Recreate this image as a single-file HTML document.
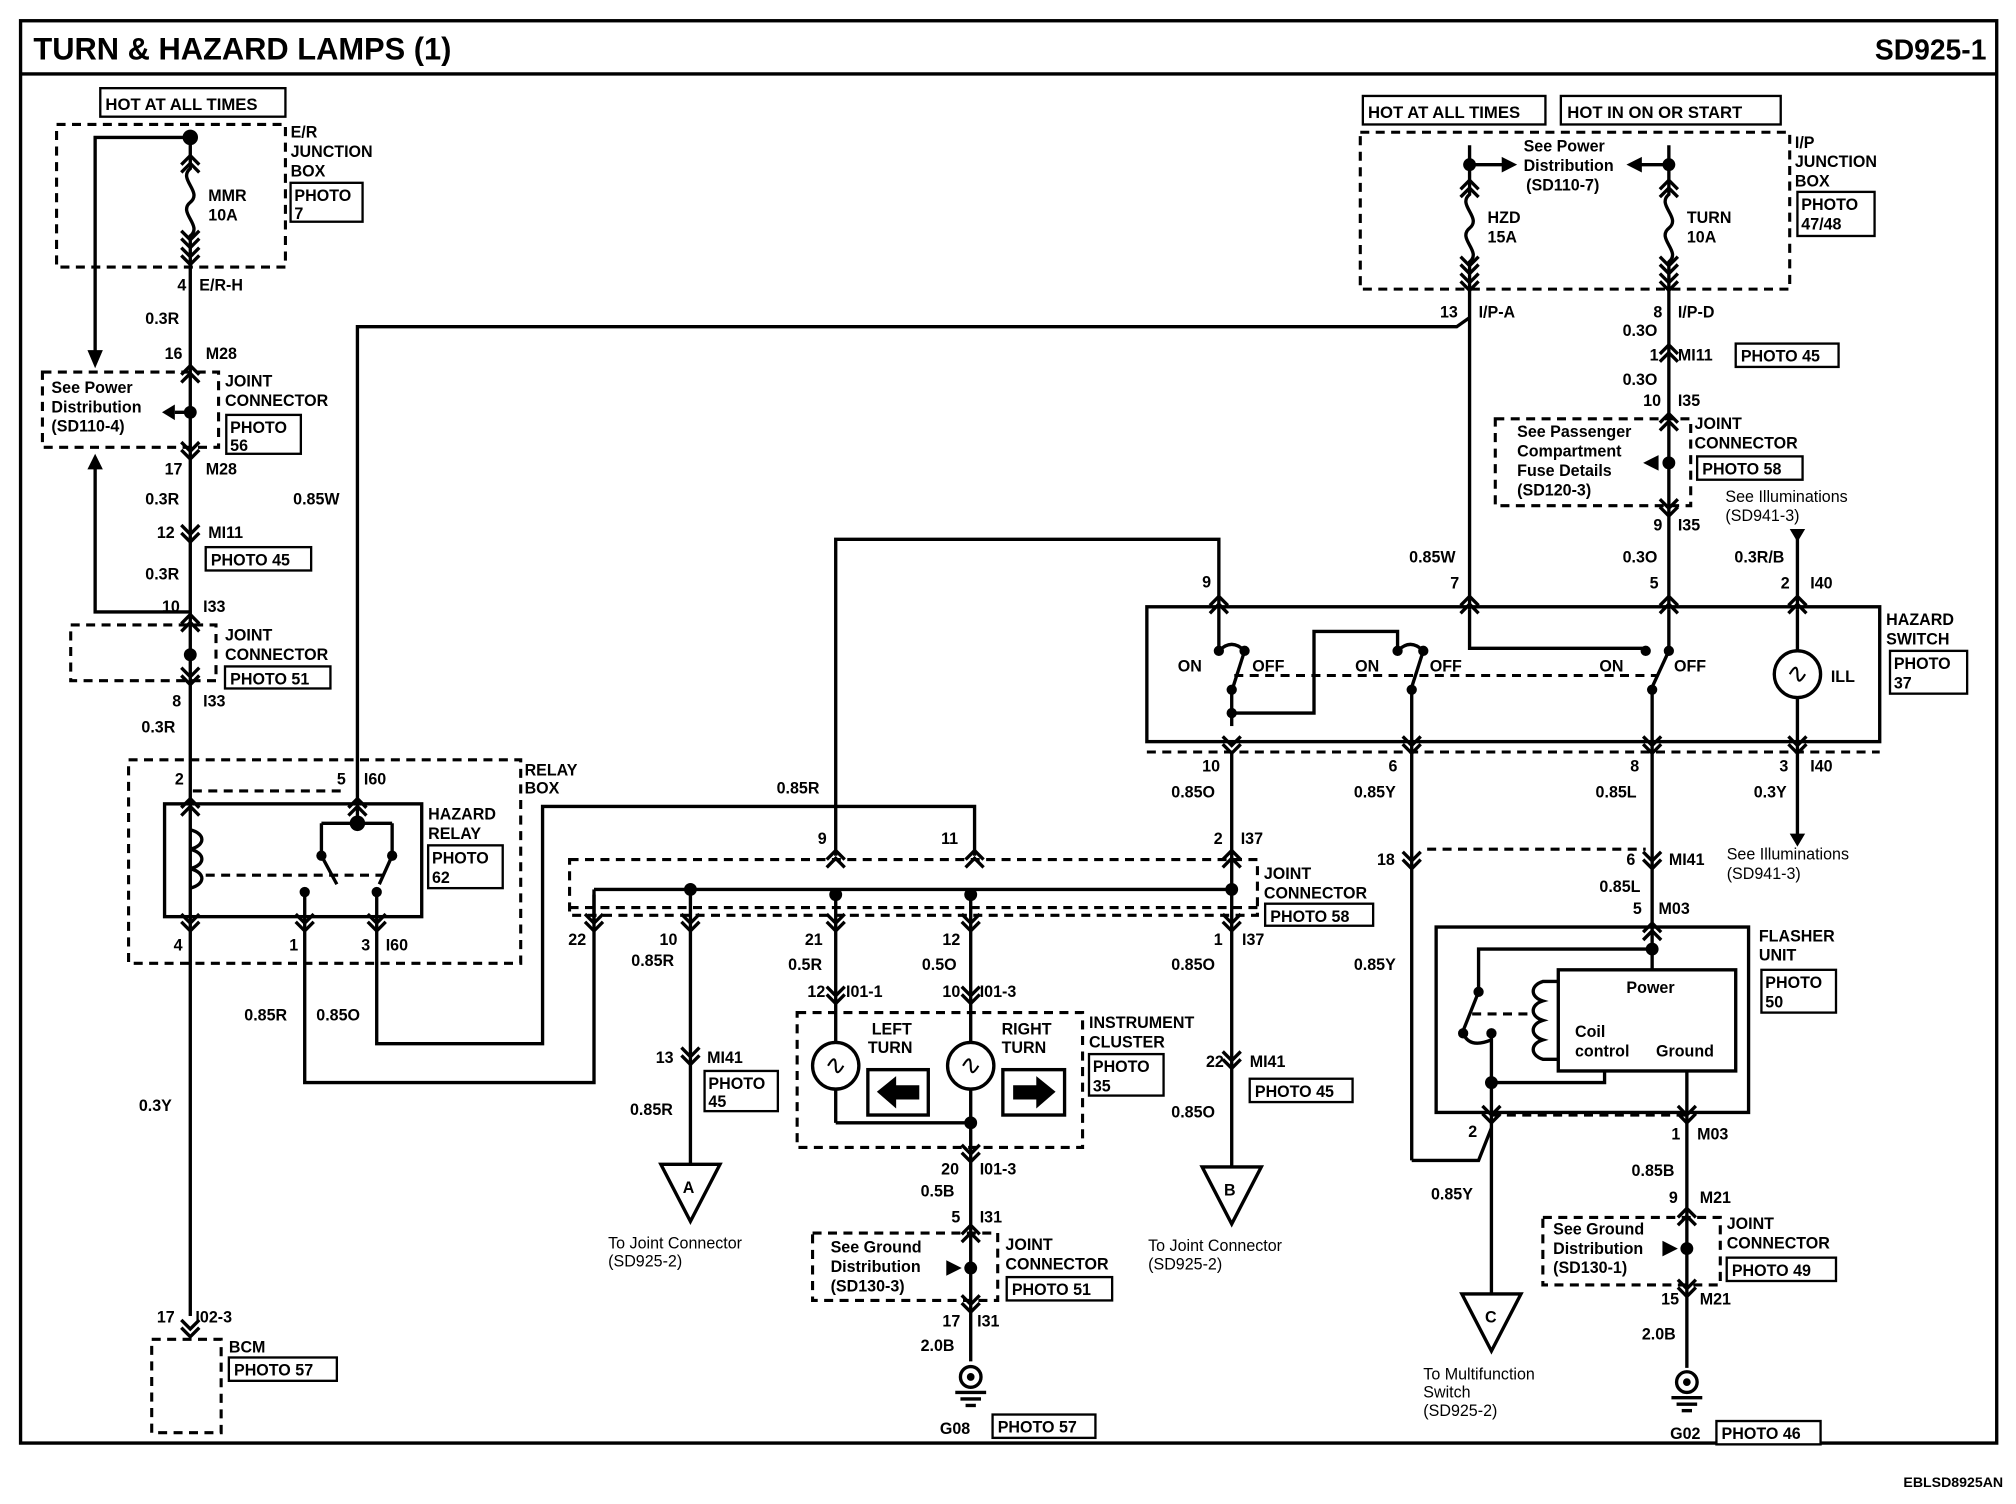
<!DOCTYPE html>
<html><head><meta charset="utf-8"><style>
html,body{margin:0;padding:0;background:#fff}
svg{display:block}
text{font-family:"Liberation Sans",sans-serif;font-weight:bold;font-size:12.5px;fill:#000}
.l{stroke:#000;stroke-width:2.6;fill:none}
.t{stroke:#000;stroke-width:1.6;fill:none}
.d{stroke:#000;stroke-width:2.4;fill:none;stroke-dasharray:7 5}
.b{stroke:#000;stroke-width:1.8;fill:#fff}
.s{font-size:13px}
</style></head><body>
<svg width="2016" height="1504" viewBox="0 0 1568 1160" preserveAspectRatio="none" xmlns="http://www.w3.org/2000/svg">
<defs>
<g id="v"><polyline class="l" points="-7,-7 0,0 7,-7"/><polyline class="l" points="-7,-1 0,6 7,-1"/></g>
<g id="u"><polyline class="l" points="-7,7 0,0 7,7"/><polyline class="l" points="-7,1 0,-6 7,1"/></g>
</defs>
<!-- frame -->
<rect x="16" y="16" width="1537" height="1097" class="l"/>
<line x1="16" y1="57" x2="1553" y2="57" class="l"/>
<text x="26" y="46" style="font-size:24px">TURN &amp; HAZARD LAMPS (1)</text>
<text x="1545" y="46" text-anchor="end" style="font-size:22px">SD925-1</text>
<text x="1558" y="1147" text-anchor="end" style="font-size:11px">EBLSD8925AN</text>

<!-- LEFT COLUMN -->
<rect x="78" y="68" width="144" height="22" class="b"/><text x="82" y="85" class="s">HOT AT ALL TIMES</text>
<rect x="44" y="96" width="178" height="110" class="d"/>
<text x="226" y="106">E/R</text><text x="226" y="121">JUNCTION</text><text x="226" y="136">BOX</text>
<rect x="226" y="141" width="56" height="30" class="b"/><text x="229" y="155">PHOTO</text><text x="229" y="169">7</text>
<circle cx="148" cy="106" r="6"/>
<polyline class="l" points="148,106 74,106 74,275"/><polygon points="68,270 80,270 74,284"/>
<path class="l" d="M148,106 V130 c-10,8 10,18 0,26 c-10,8 10,18 0,26 V285"/>
<use href="#u" x="148" y="126"/><use href="#v" x="148" y="185"/><use href="#v" x="148" y="198"/>
<text x="162" y="155">MMR</text><text x="162" y="170">10A</text>
<text x="138" y="224">4</text><text x="155" y="224">E/R-H</text>
<text x="113" y="250">0.3R</text>
<text x="128" y="277">16</text><text x="160" y="277">M28</text>
<line x1="148" y1="285" x2="148" y2="1015" class="l"/>
<use href="#u" x="148" y="288"/><use href="#v" x="148" y="348"/>
<rect x="33" y="287" width="137" height="58" class="d"/>
<text x="40" y="303">See Power</text><text x="40" y="318">Distribution</text><text x="40" y="333">(SD110-4)</text>
<circle cx="148" cy="318" r="5"/><line x1="148" y1="318" x2="136" y2="318" class="l"/><polygon points="136,312 136,324 126,318"/>
<text x="175" y="298">JOINT</text><text x="175" y="313">CONNECTOR</text>
<rect x="176" y="320" width="58" height="30" class="b"/><text x="179" y="334">PHOTO</text><text x="179" y="348">56</text>
<text x="128" y="366">17</text><text x="160" y="366">M28</text>
<text x="113" y="389">0.3R</text><text x="228" y="389">0.85W</text>
<polygon points="68,362 80,362 74,350"/><polyline class="l" points="74,360 74,472 148,472"/>
<text x="122" y="415">12</text><text x="162" y="415">MI11</text><use href="#v" x="148" y="412"/>
<rect x="160" y="422" width="82" height="18" class="b"/><text x="164" y="436">PHOTO 45</text>
<text x="113" y="447">0.3R</text>
<text x="126" y="472">10</text><text x="158" y="472">I33</text>
<use href="#u" x="148" y="480"/><use href="#v" x="148" y="522"/>
<rect x="55" y="482" width="113" height="43" class="d"/><circle cx="148" cy="505" r="5"/>
<text x="175" y="494">JOINT</text><text x="175" y="509">CONNECTOR</text>
<rect x="175" y="514" width="82" height="17" class="b"/><text x="179" y="528">PHOTO 51</text>
<text x="134" y="545">8</text><text x="158" y="545">I33</text>
<text x="110" y="565">0.3R</text>

<!-- relay -->
<rect x="100" y="586" width="305" height="157" class="d"/>
<text x="408" y="598">RELAY</text><text x="408" y="612">BOX</text>
<rect x="128" y="620" width="200" height="87" class="l"/>
<text x="136" y="605">2</text><text x="262" y="605">5</text><text x="283" y="605">I60</text>
<line x1="150" y1="610" x2="265" y2="610" class="d"/>
<use href="#u" x="148" y="622"/><use href="#u" x="278" y="622"/>
<text x="333" y="632">HAZARD</text><text x="333" y="647">RELAY</text>
<rect x="333" y="652" width="58" height="33" class="b"/><text x="336" y="666">PHOTO</text><text x="336" y="681">62</text>
<path class="l" d="M148,640 c12,3 12,12 0,15 c12,3 12,12 0,15 c12,3 12,12 0,15"/>
<circle cx="278" cy="635" r="6"/>
<polyline class="l" points="278,635 278,622"/>
<polyline class="l" points="250,635 305,635"/>
<polyline class="l" points="250,635 250,660 262,682"/><circle cx="250" cy="660" r="4"/>
<polyline class="l" points="305,635 305,660 295,682"/><circle cx="305" cy="660" r="4"/>
<line x1="160" y1="675" x2="300" y2="675" class="d"/>
<circle cx="237" cy="688" r="4"/><circle cx="293" cy="688" r="4"/>
<line x1="237" y1="688" x2="237" y2="706" class="l"/><line x1="293" y1="688" x2="293" y2="706" class="l"/>
<use href="#v" x="148" y="712"/><use href="#v" x="237" y="712"/><use href="#v" x="293" y="712"/>
<text x="135" y="733">4</text><text x="225" y="733">1</text><text x="281" y="733">3</text><text x="300" y="733">I60</text>
<polyline class="l" points="237,706 237,835 462,835 462,690"/>
<polyline class="l" points="293,706 293,805 422,805 422,622 758,622 758,660"/>
<polyline class="l" points="278,622 278,252 1133,252 1143,245"/>
<text x="190" y="787">0.85R</text><text x="246" y="787">0.85O</text>
<text x="108" y="857">0.3Y</text>
<text x="122" y="1020">17</text><text x="152" y="1020">I02-3</text><use href="#v" x="148" y="1025"/>
<rect x="118" y="1033" width="54" height="72" class="d"/>
<text x="178" y="1043">BCM</text>
<rect x="178" y="1047" width="84" height="18" class="b"/><text x="182" y="1061">PHOTO 57</text>

<!-- MIDDLE -->
<polyline class="l" points="650,660 650,416 948,416 948,468"/>
<text x="604" y="612">0.85R</text>
<rect x="443" y="663" width="535" height="43" class="d"/>
<line x1="443" y1="700" x2="978" y2="700" class="d"/>
<line x1="462" y1="686" x2="958" y2="686" class="l"/>
<line x1="462" y1="686" x2="462" y2="710" class="l"/>
<text x="636" y="651">9</text><text x="732" y="651">11</text><text x="944" y="651">2</text><text x="965" y="651">I37</text>
<use href="#u" x="650" y="662"/><use href="#u" x="758" y="662"/><use href="#u" x="958" y="662"/>
<circle cx="537" cy="686" r="5"/><circle cx="650" cy="690" r="5"/><circle cx="755" cy="690" r="5"/><circle cx="958" cy="686" r="5"/>
<text x="983" y="678">JOINT</text><text x="983" y="693">CONNECTOR</text>
<rect x="984" y="697" width="84" height="17" class="b"/><text x="988" y="711">PHOTO 58</text>
<use href="#v" x="462" y="712"/><use href="#v" x="537" y="712"/><use href="#v" x="650" y="712"/><use href="#v" x="755" y="712"/><use href="#v" x="958" y="712"/>
<text x="442" y="729">22</text><text x="513" y="729">10</text><text x="626" y="729">21</text><text x="733" y="729">12</text><text x="944" y="729">1</text><text x="966" y="729">I37</text>
<text x="491" y="745">0.85R</text><text x="613" y="748">0.5R</text><text x="717" y="748">0.5O</text><text x="911" y="748">0.85O</text>
<line x1="537" y1="686" x2="537" y2="898" class="l"/>
<text x="510" y="820">13</text><text x="550" y="820">MI41</text><use href="#v" x="537" y="815"/>
<rect x="548" y="826" width="57" height="31" class="b"/><text x="551" y="840">PHOTO</text><text x="551" y="854">45</text>
<text x="490" y="860">0.85R</text>
<polygon class="l" points="514,898 560,898 537,942"/><text x="531" y="920">A</text>
<text x="473" y="963" style="font-weight:normal">To Joint Connector</text><text x="473" y="977" style="font-weight:normal">(SD925-2)</text>
<line x1="650" y1="690" x2="650" y2="866" class="l"/><line x1="755" y1="690" x2="755" y2="1050" class="l"/>
<text x="628" y="769">12</text><text x="658" y="769">I01-1</text><text x="733" y="769">10</text><text x="762" y="769">I01-3</text>
<use href="#v" x="650" y="768"/><use href="#v" x="755" y="768"/>
<rect x="620" y="781" width="222" height="104" class="d"/>
<text x="678" y="798">LEFT</text><text x="675" y="812">TURN</text><text x="779" y="798">RIGHT</text><text x="779" y="812">TURN</text>
<circle cx="650" cy="822" r="18" class="b" style="stroke-width:2.6"/><circle cx="755" cy="822" r="18" class="b" style="stroke-width:2.6"/>
<path class="t" d="M644,822 q6,-10 6,0 q0,10 6,0"/><path class="t" d="M749,822 q6,-10 6,0 q0,10 6,0"/>
<rect x="675" y="825" width="47" height="35" class="l"/><polygon points="682,842 697,830 697,837 715,837 715,848 697,848 697,855"/>
<rect x="780" y="825" width="48" height="35" class="l"/><polygon points="821,842 806,830 806,837 788,837 788,848 806,848 806,855"/>
<polyline class="l" points="650,866 755,866"/><circle cx="755" cy="866" r="5"/>
<text x="847" y="793">INSTRUMENT</text><text x="847" y="808">CLUSTER</text>
<rect x="847" y="813" width="58" height="32" class="b"/><text x="850" y="827">PHOTO</text><text x="850" y="842">35</text>
<use href="#v" x="755" y="890"/>
<text x="732" y="906">20</text><text x="762" y="906">I01-3</text><text x="716" y="923">0.5B</text>
<text x="740" y="943">5</text><text x="762" y="943">I31</text><use href="#u" x="755" y="951"/>
<rect x="632" y="951" width="144" height="52" class="d"/>
<text x="646" y="966">See Ground</text><text x="646" y="981">Distribution</text><text x="646" y="996">(SD130-3)</text>
<polygon points="736,972 736,984 748,978"/><circle cx="755" cy="978" r="5"/>
<text x="782" y="964">JOINT</text><text x="782" y="979">CONNECTOR</text>
<rect x="783" y="985" width="82" height="18" class="b"/><text x="787" y="999">PHOTO 51</text>
<use href="#v" x="755" y="1006"/>
<text x="733" y="1023">17</text><text x="760" y="1023">I31</text><text x="716" y="1042">2.0B</text>
<circle cx="755" cy="1062" r="8" class="l"/><circle cx="755" cy="1062" r="3"/>
<line x1="743" y1="1074" x2="767" y2="1074" class="l"/><line x1="747" y1="1079" x2="763" y2="1079" class="l"/><line x1="751" y1="1084" x2="759" y2="1084" class="l"/>
<text x="731" y="1106">G08</text><rect x="772" y="1091" width="80" height="18" class="b"/><text x="776" y="1105">PHOTO 57</text>
<line x1="958" y1="580" x2="958" y2="900" class="l"/>
<text x="938" y="823">22</text><text x="972" y="823">MI41</text><use href="#v" x="958" y="818"/>
<rect x="972" y="832" width="80" height="18" class="b"/><text x="976" y="846">PHOTO 45</text>
<text x="911" y="862">0.85O</text>
<polygon class="l" points="935,900 981,900 958,944"/><text x="952" y="922">B</text>
<text x="893" y="965" style="font-weight:normal">To Joint Connector</text><text x="893" y="979" style="font-weight:normal">(SD925-2)</text>

<!-- RIGHT TOP -->
<rect x="1060" y="74" width="142" height="22" class="b"/><text x="1064" y="91" class="s">HOT AT ALL TIMES</text>
<rect x="1214" y="74" width="171" height="22" class="b"/><text x="1219" y="91" class="s">HOT IN ON OR START</text>
<rect x="1058" y="102" width="334" height="121" class="d"/>
<text x="1396" y="114">I/P</text><text x="1396" y="129">JUNCTION</text><text x="1396" y="144">BOX</text>
<rect x="1398" y="148" width="60" height="34" class="b"/><text x="1401" y="162">PHOTO</text><text x="1401" y="177">47/48</text>
<text x="1185" y="117">See Power</text><text x="1185" y="132">Distribution</text><text x="1187" y="147">(SD110-7)</text>
<circle cx="1143" cy="127" r="5"/><circle cx="1298" cy="127" r="5"/>
<line x1="1143" y1="127" x2="1170" y2="127" class="l"/><polygon points="1168,121 1168,133 1180,127"/>
<line x1="1298" y1="127" x2="1275" y2="127" class="l"/><polygon points="1277,121 1277,133 1265,127"/>
<path class="l" d="M1143,112 V150 c-10,8 10,18 0,26 c-10,8 10,18 0,26 V470"/>
<path class="l" d="M1298,112 V150 c-10,8 10,18 0,26 c-10,8 10,18 0,26 V470"/>
<use href="#u" x="1143" y="145"/><use href="#u" x="1298" y="145"/>
<use href="#v" x="1143" y="205"/><use href="#v" x="1143" y="218"/><use href="#v" x="1298" y="205"/><use href="#v" x="1298" y="218"/>
<text x="1157" y="172">HZD</text><text x="1157" y="187">15A</text><text x="1312" y="172">TURN</text><text x="1312" y="187">10A</text>
<text x="1120" y="245">13</text><text x="1150" y="245">I/P-A</text><text x="1286" y="245">8</text><text x="1305" y="245">I/P-D</text>
<text x="1262" y="259">0.3O</text>
<text x="1283" y="278">1</text><text x="1305" y="278">MI11</text><use href="#u" x="1298" y="272"/>
<rect x="1350" y="265" width="80" height="18" class="b"/><text x="1354" y="279">PHOTO 45</text>
<text x="1262" y="297">0.3O</text>
<text x="1278" y="313">10</text><text x="1305" y="313">I35</text><use href="#u" x="1298" y="325"/>
<rect x="1163" y="323" width="152" height="67" class="d"/>
<text x="1180" y="337">See Passenger</text><text x="1180" y="352">Compartment</text><text x="1180" y="367">Fuse Details</text><text x="1180" y="382">(SD120-3)</text>
<polygon points="1290,351 1290,363 1278,357"/><circle cx="1298" cy="357" r="5"/>
<text x="1318" y="331">JOINT</text><text x="1318" y="346">CONNECTOR</text>
<rect x="1320" y="352" width="82" height="18" class="b"/><text x="1324" y="366">PHOTO 58</text>
<use href="#v" x="1298" y="392"/>
<text x="1286" y="409">9</text><text x="1305" y="409">I35</text>
<text x="1342" y="387" style="font-weight:normal">See Illuminations</text><text x="1342" y="402" style="font-weight:normal">(SD941-3)</text>
<polygon points="1392,408 1404,408 1398,418"/><line x1="1398" y1="414" x2="1398" y2="470" class="l"/>
<text x="1096" y="434">0.85W</text><text x="1262" y="434">0.3O</text><text x="1349" y="434">0.3R/B</text>
<text x="935" y="453">9</text><text x="1128" y="454">7</text><text x="1283" y="454">5</text><text x="1385" y="454">2</text><text x="1408" y="454">I40</text>

<!-- hazard switch -->
<rect x="892" y="468" width="570" height="104" class="l"/>
<use href="#u" x="948" y="466"/><use href="#u" x="1143" y="466"/><use href="#u" x="1298" y="466"/><use href="#u" x="1398" y="466"/>
<text x="1467" y="482">HAZARD</text><text x="1467" y="497">SWITCH</text>
<rect x="1470" y="502" width="60" height="33" class="b"/><text x="1473" y="516">PHOTO</text><text x="1473" y="531">37</text>
<polyline class="l" points="948,468 948,502"/><circle cx="948" cy="502" r="4"/>
<path class="l" d="M948,502 q10,-10 20,0"/><circle cx="968" cy="502" r="4"/><line x1="968" y1="502" x2="959" y2="530" class="l"/>
<circle cx="958" cy="532" r="4"/><polyline class="l" points="958,532 958,560"/><circle cx="958" cy="550" r="4"/>
<polyline class="l" points="958,550 1022,550 1022,487 1087,487 1087,500"/><circle cx="1087" cy="502" r="4"/>
<path class="l" d="M1087,502 q10,-10 20,0"/><circle cx="1107" cy="502" r="4"/><line x1="1107" y1="502" x2="1098" y2="530" class="l"/>
<circle cx="1098" cy="532" r="4"/><line x1="1098" y1="532" x2="1098" y2="580" class="l"/>
<polyline class="l" points="1143,470 1143,500 1280,500"/><circle cx="1280" cy="502" r="4"/>
<polyline class="l" points="1298,470 1298,502 1285,530"/><circle cx="1298" cy="502" r="4"/>
<circle cx="1285" cy="532" r="4"/><line x1="1285" y1="532" x2="1285" y2="580" class="l"/>
<line x1="960" y1="521" x2="1290" y2="521" class="d"/>
<text x="916" y="518">ON</text><text x="974" y="518">OFF</text><text x="1054" y="518">ON</text><text x="1112" y="518">OFF</text><text x="1244" y="518">ON</text><text x="1302" y="518">OFF</text>
<circle cx="1398" cy="520" r="18" class="b" style="stroke-width:2.6"/><path class="t" d="M1392,520 q6,-10 6,0 q0,10 6,0"/>
<line x1="1398" y1="502" x2="1398" y2="470" class="l"/><line x1="1398" y1="538" x2="1398" y2="648" class="l"/>
<text x="1424" y="526">ILL</text>
<line x1="892" y1="580" x2="1462" y2="580" class="d"/>
<use href="#v" x="958" y="575"/><use href="#v" x="1098" y="575"/><use href="#v" x="1285" y="575"/><use href="#v" x="1398" y="575"/>
<text x="935" y="595">10</text><text x="1080" y="595">6</text><text x="1268" y="595">8</text><text x="1384" y="595">3</text><text x="1408" y="595">I40</text>
<text x="911" y="615">0.85O</text><text x="1053" y="615">0.85Y</text><text x="1241" y="615">0.85L</text><text x="1364" y="615">0.3Y</text>
<polygon points="1392,643 1404,643 1398,653"/>
<text x="1343" y="663" style="font-weight:normal">See Illuminations</text><text x="1343" y="678" style="font-weight:normal">(SD941-3)</text>

<!-- flasher -->
<line x1="1098" y1="580" x2="1098" y2="895" class="l"/>
<polyline class="l" points="1098,895 1150,895 1160,870"/>
<line x1="1110" y1="655" x2="1280" y2="655" class="d"/>
<use href="#v" x="1098" y="664"/><use href="#v" x="1285" y="664"/>
<text x="1071" y="667">18</text><text x="1265" y="667">6</text><text x="1298" y="667">MI41</text>
<text x="1053" y="748">0.85Y</text>
<line x1="1285" y1="580" x2="1285" y2="748" class="l"/>
<text x="1244" y="688">0.85L</text><text x="1270" y="705">5</text><text x="1290" y="705">M03</text>
<rect x="1117" y="715" width="243" height="143" class="l"/>
<use href="#u" x="1285" y="718"/>
<text x="1368" y="726">FLASHER</text><text x="1368" y="741">UNIT</text>
<rect x="1370" y="748" width="58" height="33" class="b"/><text x="1373" y="762">PHOTO</text><text x="1373" y="777">50</text>
<circle cx="1285" cy="732" r="5"/><polyline class="l" points="1285,732 1150,732 1150,765"/><circle cx="1150" cy="765" r="4"/>
<line x1="1150" y1="765" x2="1138" y2="795" class="l"/><circle cx="1138" cy="797" r="4"/>
<path class="l" d="M1138,797 q5,12 22,5"/><circle cx="1160" cy="797" r="4"/>
<polyline class="l" points="1160,797 1160,870"/><circle cx="1160" cy="835" r="5"/>
<polyline class="l" points="1160,835 1248,835 1248,826"/>
<line x1="1145" y1="782" x2="1190" y2="782" class="d"/>
<rect x="1212" y="748" width="138" height="78" class="l"/>
<path class="l" d="M1212,757 h-12 c-10,3 -10,12 0,15 c-10,3 -10,12 0,15 c-10,3 -10,12 0,15 c-10,3 -10,12 0,15 h12"/>
<text x="1265" y="766">Power</text><text x="1225" y="800">Coil</text><text x="1225" y="815">control</text><text x="1288" y="815">Ground</text>
<line x1="1312" y1="826" x2="1312" y2="1055" class="l"/>
<line x1="1160" y1="860" x2="1312" y2="860" class="d"/>
<use href="#v" x="1160" y="860"/><use href="#v" x="1312" y="860"/>
<text x="1142" y="877">2</text><text x="1300" y="879">1</text><text x="1320" y="879">M03</text>
<line x1="1160" y1="870" x2="1160" y2="998" class="l"/>
<text x="1113" y="925">0.85Y</text>
<polygon class="l" points="1137,998 1183,998 1160,1042"/><text x="1155" y="1020">C</text>
<text x="1107" y="1064" style="font-weight:normal">To Multifunction</text><text x="1107" y="1078" style="font-weight:normal">Switch</text><text x="1107" y="1092" style="font-weight:normal">(SD925-2)</text>
<text x="1269" y="907">0.85B</text>
<text x="1298" y="928">9</text><text x="1322" y="928">M21</text><use href="#u" x="1312" y="938"/>
<rect x="1200" y="939" width="138" height="52" class="d"/>
<text x="1208" y="952">See Ground</text><text x="1208" y="967">Distribution</text><text x="1208" y="982">(SD130-1)</text>
<polygon points="1293,957 1293,969 1305,963"/><circle cx="1312" cy="963" r="5"/>
<text x="1343" y="948">JOINT</text><text x="1343" y="963">CONNECTOR</text>
<rect x="1343" y="970" width="85" height="18" class="b"/><text x="1347" y="984">PHOTO 49</text>
<use href="#v" x="1312" y="994"/>
<text x="1292" y="1006">15</text><text x="1322" y="1006">M21</text><text x="1277" y="1033">2.0B</text>
<circle cx="1312" cy="1066" r="8" class="l"/><circle cx="1312" cy="1066" r="3"/>
<line x1="1300" y1="1078" x2="1324" y2="1078" class="l"/><line x1="1304" y1="1083" x2="1320" y2="1083" class="l"/><line x1="1308" y1="1088" x2="1316" y2="1088" class="l"/>
<text x="1299" y="1110">G02</text><rect x="1335" y="1096" width="81" height="18" class="b"/><text x="1339" y="1110">PHOTO 46</text>
</svg>
</body></html>
